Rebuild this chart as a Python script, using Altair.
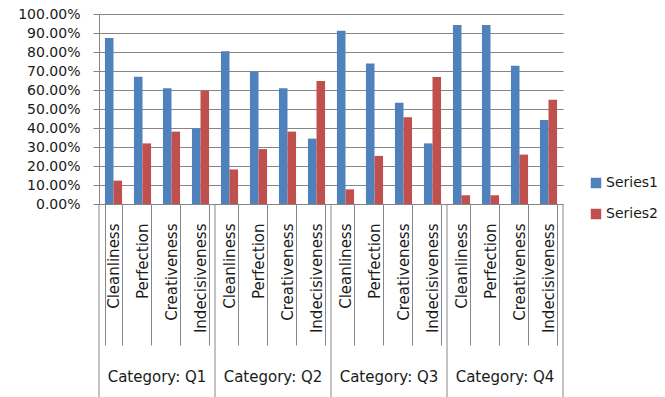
import altair as alt
import pandas as pd

groups = ["Q1", "Q2", "Q3", "Q4"]
subcats = ["Cleanliness", "Perfection", "Creativeness", "Indecisiveness"]
series_names = ["Series1", "Series2"]
series1 = [0.874, 0.670, 0.609, 0.398,
           0.804, 0.696, 0.609, 0.344,
           0.912, 0.739, 0.533, 0.319,
           0.942, 0.942, 0.728, 0.442]
series2 = [0.123, 0.319, 0.381, 0.596,
           0.182, 0.289, 0.381, 0.647,
           0.077, 0.253, 0.456, 0.668,
           0.046, 0.046, 0.260, 0.549]
y_ticks = [0.0, 0.1, 0.2, 0.3, 0.4, 0.5, 0.6, 0.7, 0.8, 0.9, 1.0]

keys = [f"{g}|{s}" for g in groups for s in subcats]
rows = []
for k, v1, v2 in zip(keys, series1, series2):
    rows.append({"key": k, "series": series_names[0], "value": v1})
    rows.append({"key": k, "series": series_names[1], "value": v2})
df = pd.DataFrame(rows)

grp_df = pd.DataFrame({
    "label": [f"Category: {g}" for g in groups],
    "mid": [f"{g}|{subcats[1]}" for g in groups],
    "start": [f"{g}|{subcats[0]}" for g in groups],
})
end_df = pd.DataFrame({"end": [keys[-1]]})

BLUE = "#4F81BD"
RED = "#C0504D"
GRAY = "#868686"
TEXT = "#1a1a1a"
FONT = "DejaVu Sans"
STEP = 464 / 16

xscale = alt.Scale(domain=keys, paddingInner=0.41, paddingOuter=0.205)

bars = alt.Chart(df).mark_bar().encode(
    x=alt.X("key:N", scale=xscale, sort=keys, title=None,
            axis=alt.Axis(labelExpr="split(datum.label, '|')[1]", labelAngle=270,
                          tickBand="extent", tickSize=141, tickColor=GRAY,
                          domainColor=GRAY, labelPadding=-122, labelFont=FONT,
                          labelFontSize=15, labelColor=TEXT, grid=False)),
    y=alt.Y("value:Q", scale=alt.Scale(domain=[0, 1]), title=None,
            axis=alt.Axis(values=y_ticks, format=".2%", tickSize=6, tickColor=GRAY,
                          domainColor=GRAY, gridColor=GRAY, labelPadding=13,
                          labelFont=FONT, labelFontSize=14, labelColor=TEXT)),
    xOffset=alt.XOffset("series:N", sort=series_names,
                        scale=alt.Scale(paddingInner=0, paddingOuter=0)),
    color=alt.Color("series:N", sort=series_names,
                    scale=alt.Scale(domain=series_names, range=[BLUE, RED]),
                    legend=alt.Legend(title=None, orient="none", legendX=490, legendY=162,
                                      symbolType="square", symbolSize=110,
                                      symbolStrokeWidth=0, labelFont=FONT,
                                      labelFontSize=14, labelColor=TEXT,
                                      rowPadding=17, labelOffset=3)),
)

group_text = alt.Chart(grp_df).mark_text(font=FONT, fontSize=15, color=TEXT,
                                         xOffset=STEP / 2).encode(
    x=alt.X("mid:N", scale=xscale, sort=keys),
    y=alt.value(363),
    text="label:N",
)

dividers = alt.Chart(grp_df).mark_rule(color=GRAY, xOffset=-STEP / 2).encode(
    x=alt.X("start:N", scale=xscale, sort=keys),
    y=alt.value(190),
    y2=alt.value(390),
)

end_divider = alt.Chart(end_df).mark_rule(color=GRAY, xOffset=STEP / 2).encode(
    x=alt.X("end:N", scale=xscale, sort=keys),
    y=alt.value(190),
    y2=alt.value(390),
)

chart = alt.layer(bars, group_text, dividers, end_divider).properties(
    width=464, height=190,
    padding={"left": 99, "top": 14, "right": 102, "bottom": 193},
    autosize="none",
).configure_view(stroke=None)

chart.save("out.html", embed_options={"renderer": "svg", "actions": False})
